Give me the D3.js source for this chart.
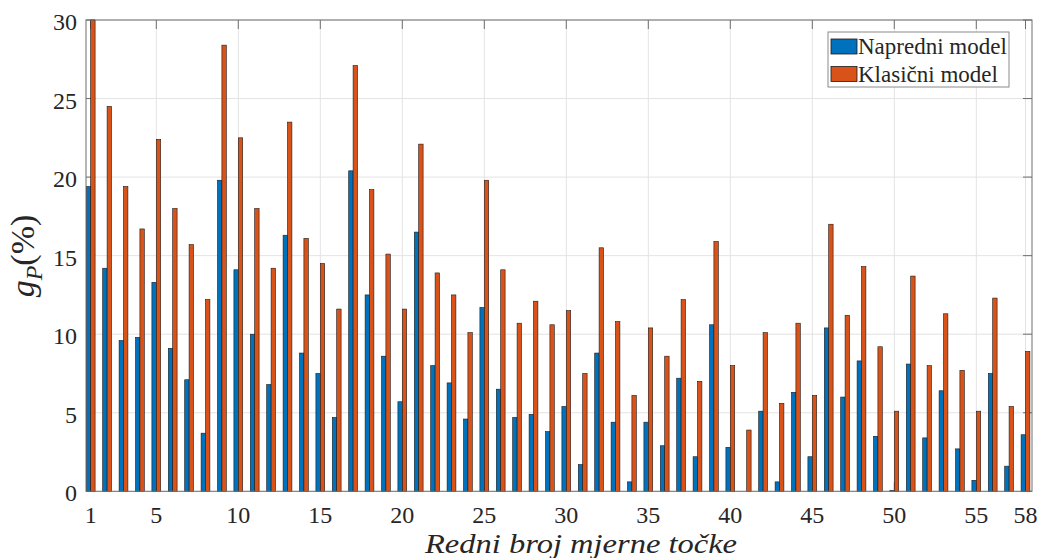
<!DOCTYPE html>
<html>
<head>
<meta charset="utf-8">
<script src="https://cdn.jsdelivr.net/npm/d3@7"></script>
</head>
<body style="margin:0">
<svg id="fig" width="1040" height="558"></svg>
<script>
// ---------- data ----------
const categories = d3.range(1, 59);
const napredni = [19.4, 14.2, 9.6, 9.8, 13.3, 9.1, 7.1, 3.7, 19.8, 14.1,
                  10.0, 6.8, 16.3, 8.8, 7.5, 4.7, 20.4, 12.5, 8.6, 5.7,
                  16.5, 8.0, 6.9, 4.6, 11.7, 6.5, 4.7, 4.9, 3.8, 5.4,
                  1.7, 8.8, 4.4, 0.6, 4.4, 2.9, 7.2, 2.2, 10.6, 2.8,
                  0.0, 5.1, 0.6, 6.3, 2.2, 10.4, 6.0, 8.3, 3.5, 0.05,
                  8.1, 3.4, 6.4, 2.7, 0.7, 7.5, 1.6, 3.6];
const klasicni = [30.0, 24.5, 19.4, 16.7, 22.4, 18.0, 15.7, 12.2, 28.4, 22.5,
                  18.0, 14.2, 23.5, 16.1, 14.5, 11.6, 27.1, 19.2, 15.1, 11.6,
                  22.1, 13.9, 12.5, 10.1, 19.8, 14.1, 10.7, 12.1, 10.6, 11.5,
                  7.5, 15.5, 10.8, 6.1, 10.4, 8.6, 12.2, 7.0, 15.9, 8.0,
                  3.9, 10.1, 5.6, 10.7, 6.1, 17.0, 11.2, 14.3, 9.2, 5.1,
                  13.7, 8.0, 11.3, 7.7, 5.1, 12.3, 5.4, 8.9];
const seriesNames = ["Napredni model", "Klasični model"];
const seriesColors = ["#0072BD", "#D95319"];
const xTicks = [1, 5, 10, 15, 20, 25, 30, 35, 40, 45, 50, 55, 58];
const yTicks = [0, 5, 10, 15, 20, 25, 30];
const xLabel = "Redni broj mjerne točke";

// ---------- layout ----------
const FONT = '"Liberation Serif", monospace';
const TXT = "#262626";
const L = 86, R = 1032, T = 20, B = 491.3;
const svg = d3.select("#fig");

const x = d3.scaleLinear().domain([1, 58]).range([90.7, 1025.5]);
const y = d3.scaleLinear().domain([0, 30]).range([B, T]);
const inner = d3.scaleBand().domain(seriesNames).range([-4.4, 4.4]).padding(0);

function label(sel) {
  return sel.attr("font-family", FONT).style("font-family", FONT).attr("fill", TXT);
}

// grid
const grid = svg.append("g");
grid.selectAll(".gx").data(xTicks).enter().append("line")
  .attr("x1", d => x(d)).attr("x2", d => x(d))
  .attr("y1", T).attr("y2", B)
  .attr("stroke", "#e3e3e3").attr("stroke-width", 1);
grid.selectAll(".gy").data(yTicks).enter().append("line")
  .attr("x1", L).attr("x2", R)
  .attr("y1", d => y(d)).attr("y2", d => y(d))
  .attr("stroke", "#e3e3e3").attr("stroke-width", 1);

// inward ticks
const tk = 9;
const ticks = svg.append("g").attr("stroke", "#6e6e6e").attr("stroke-width", 1);
xTicks.forEach(d => {
  ticks.append("line").attr("x1", x(d)).attr("x2", x(d)).attr("y1", B).attr("y2", B - tk);
  ticks.append("line").attr("x1", x(d)).attr("x2", x(d)).attr("y1", T).attr("y2", T + tk);
});
yTicks.forEach(d => {
  ticks.append("line").attr("x1", L).attr("x2", L + tk).attr("y1", y(d)).attr("y2", y(d));
  ticks.append("line").attr("x1", R).attr("x2", R - tk).attr("y1", y(d)).attr("y2", y(d));
});

// bars
const data = [napredni, klasicni];
data.forEach((vals, si) => {
  svg.append("g").selectAll("rect").data(vals).enter().append("rect")
    .attr("x", (v, i) => x(categories[i]) + inner(seriesNames[si]))
    .attr("width", inner.bandwidth())
    .attr("y", v => y(Math.min(v, 30)))
    .attr("height", v => B - y(Math.min(v, 30)))
    .attr("fill", seriesColors[si])
    .attr("stroke", "#1a1a1a").attr("stroke-width", 0.6);
});

// frame
svg.append("rect").attr("x", L).attr("y", T).attr("width", R - L).attr("height", B - T)
  .attr("fill", "none").attr("stroke", "#6e6e6e").attr("stroke-width", 1);

// tick labels
svg.append("g").selectAll("text").data(xTicks).enter().append("text")
  .attr("x", d => x(d)).attr("y", 523)
  .attr("text-anchor", "middle").attr("font-size", 24)
  .call(label)
  .text(d => d);
svg.append("g").selectAll("text").data(yTicks).enter().append("text")
  .attr("x", 77).attr("y", d => y(d) + 10)
  .attr("text-anchor", "end").attr("font-size", 24)
  .call(label)
  .text(d => d);

// axis labels
svg.append("text").attr("x", 425).attr("y", 553)
  .attr("font-size", 28).attr("font-style", "italic")
  .attr("textLength", 312).attr("lengthAdjust", "spacingAndGlyphs")
  .call(label)
  .text(xLabel);

const yl = svg.append("text")
  .attr("transform", "translate(34,256) rotate(-90)")
  .attr("text-anchor", "middle").attr("font-size", 34)
  .call(label);
yl.append("tspan").attr("font-style", "italic").text("g");
yl.append("tspan").attr("font-style", "italic").attr("font-size", 24).attr("dy", 8).text("P");
yl.append("tspan").attr("dy", -8).text("(%)");

// legend
const lg = svg.append("g");
lg.append("rect").attr("x", 828).attr("y", 32).attr("width", 181).attr("height", 55)
  .attr("fill", "#fff").attr("stroke", "#8a8a8a").attr("stroke-width", 1);
seriesNames.forEach((n, i) => {
  lg.append("rect").attr("x", 831).attr("y", 39 + i * 27.5).attr("width", 26).attr("height", 15)
    .attr("fill", seriesColors[i]).attr("stroke", "#1a1a1a").attr("stroke-width", 0.8);
  lg.append("text").attr("x", 858).attr("y", 54 + i * 27.5)
    .attr("font-size", 23).call(label).text(n);
});
</script>
</body>
</html>
